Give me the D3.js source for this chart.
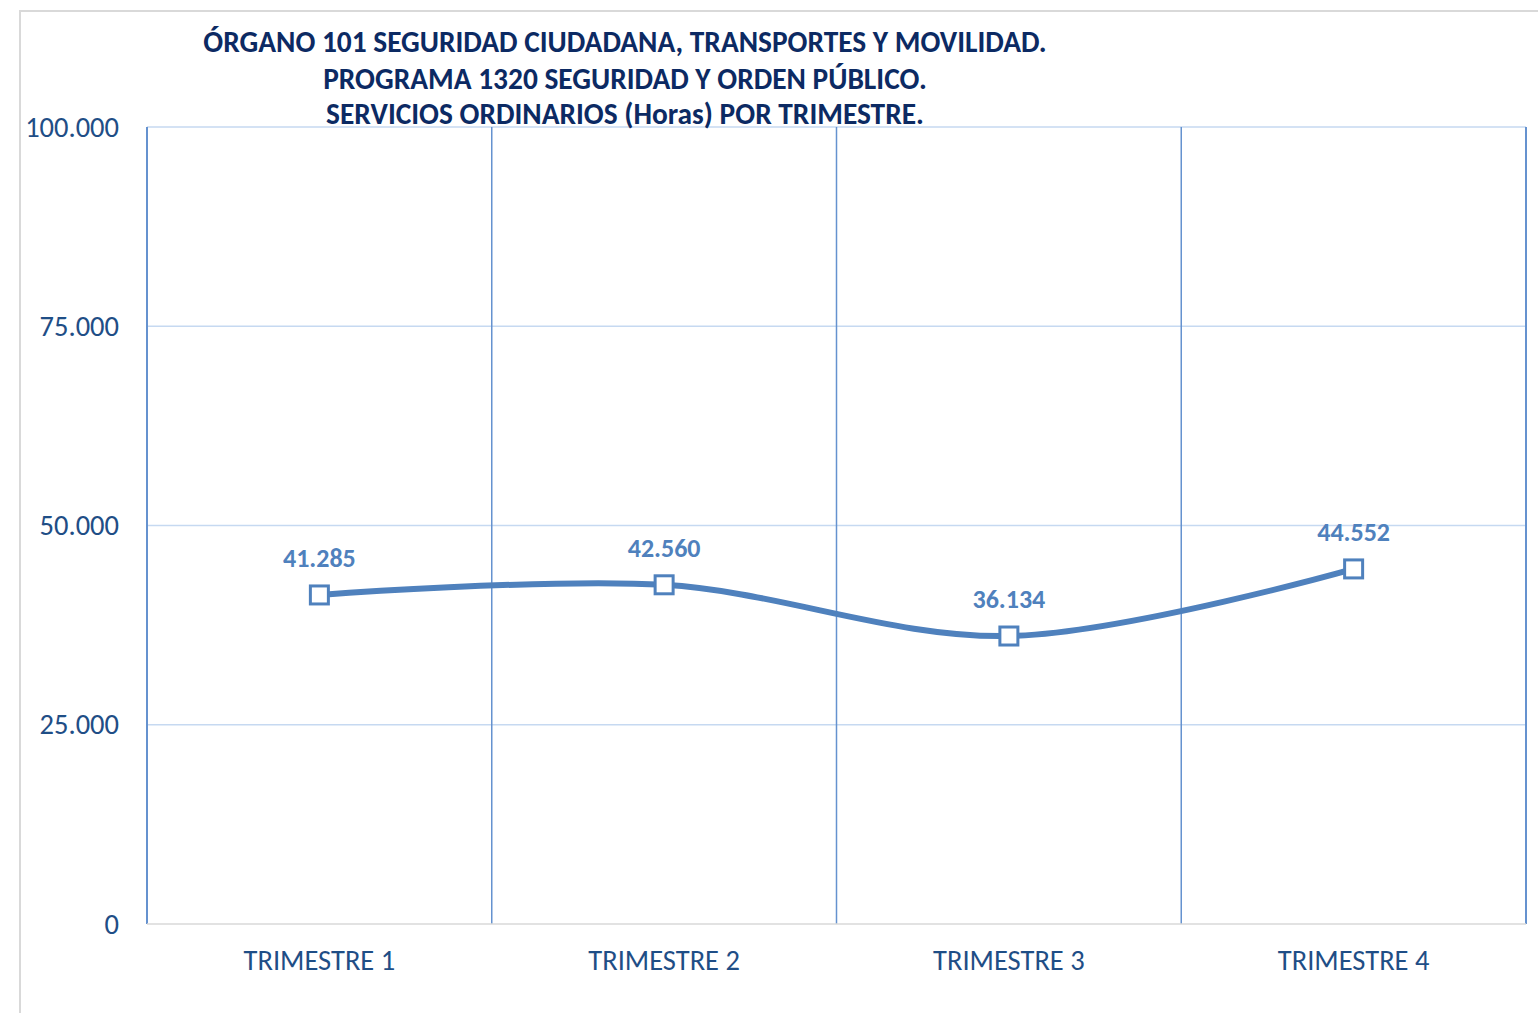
<!DOCTYPE html>
<html>
<head>
<meta charset="utf-8">
<script src="https://cdn.jsdelivr.net/npm/d3@7"></script>
<style>
  body { margin: 0; background: #fff; }
  svg { display: block; font-family: Carlito, Lato, "Open Sans", sans-serif; }
</style>
</head>
<body>
<div id="chart"></div>
<script>
// data
const categories = ['TRIMESTRE 1', 'TRIMESTRE 2', 'TRIMESTRE 3', 'TRIMESTRE 4'];
const horas = [41285, 42560, 36134, 44552];
const yTicks = [0, 25000, 50000, 75000, 100000];
const titleLines = [
    'ÓRGANO 101 SEGURIDAD CIUDADANA, TRANSPORTES Y MOVILIDAD.',
    'PROGRAMA 1320 SEGURIDAD Y ORDEN PÚBLICO.',
    'SERVICIOS ORDINARIOS (Horas) POR TRIMESTRE.'
];

const WIDTH = 1538;
const HEIGHT = 1013;
const MARGIN_TOP = 127;
const MARGIN_BOTTOM = 89;
const MARGIN_LEFT = 147;
const MARGIN_RIGHT = 12;

const BLUE = '#4f81bd';
const NAVY = '#0c2a63';
const AXIS_TEXT = '#1f4e86';
const FONT = 'Carlito, Lato, "Open Sans", sans-serif';

const fmt = d => d3.format(',')(d).replace(/,/g, '.');

const $svg = d3.select('#chart').append('svg')
    .attr('width', WIDTH)
    .attr('height', HEIGHT);

// chart frame
$svg.append('path')
    .attr('d', `M20,${HEIGHT} V11 H${WIDTH}`)
    .attr('fill', 'none')
    .attr('stroke', '#d9d9d9')
    .attr('stroke-width', 2);

const width = WIDTH - MARGIN_LEFT - MARGIN_RIGHT;
const height = HEIGHT - MARGIN_TOP - MARGIN_BOTTOM;

const $g = $svg.append('g')
    .attr('transform', `translate(${MARGIN_LEFT}, ${MARGIN_TOP})`);

// scales
const xScale = d3.scaleBand().domain(categories).range([0, width]);
const yScale = d3.scaleLinear().domain([0, 100000]).range([height, 0]);

// horizontal grid
$g.append('g').attr('class', 'y grid')
    .selectAll('line')
    .data(yTicks.filter(d => d > 0))
    .join('line')
    .attr('x1', 0)
    .attr('x2', width)
    .attr('y1', d => yScale(d))
    .attr('y2', d => yScale(d))
    .attr('stroke', '#c6d9f1')
    .attr('stroke-width', 1.5);

// vertical grid at band edges
const edges = categories.map(c => xScale(c)).concat([width]);
$g.append('g').attr('class', 'x grid')
    .selectAll('line')
    .data(edges)
    .join('line')
    .attr('x1', d => d)
    .attr('x2', d => d)
    .attr('y1', 0)
    .attr('y2', height)
    .attr('stroke', '#6592cf')
    .attr('stroke-width', (d, i) => (i === 0 || i === edges.length - 1) ? 2 : 1.5);

// x baseline
$g.append('line')
    .attr('x1', 0)
    .attr('x2', width)
    .attr('y1', height)
    .attr('y2', height)
    .attr('stroke', '#d9d9d9')
    .attr('stroke-width', 1.5);

// y axis labels
const yAxis = d3.axisLeft(yScale).tickValues(yTicks).tickFormat(fmt).tickSize(0).tickPadding(28);
$g.append('g').attr('class', 'y axis')
    .call(yAxis)
    .call(g => g.select('.domain').remove())
    .selectAll('text')
    .attr('fill', AXIS_TEXT)
    .attr('font-size', 28.5)
    .attr('font-family', FONT);

// x axis labels
const xAxis = d3.axisBottom(xScale).tickSize(0).tickPadding(26);
$g.append('g').attr('class', 'x axis')
    .attr('transform', `translate(0, ${height})`)
    .call(xAxis)
    .call(g => g.select('.domain').remove())
    .selectAll('text')
    .attr('fill', AXIS_TEXT)
    .attr('font-size', 28.5)
    .attr('font-family', FONT);

// line
const cx = (d, i) => xScale(categories[i]) + xScale.bandwidth() / 2;
const line = d3.line()
    .x(cx)
    .y(d => yScale(d))
    .curve(d3.curveCatmullRom.alpha(0.5));

$g.append('path')
    .datum(horas)
    .attr('d', line)
    .attr('fill', 'none')
    .attr('stroke', BLUE)
    .attr('stroke-width', 6)
    .attr('stroke-linecap', 'round');

// markers
$g.append('g').attr('class', 'markers')
    .selectAll('rect')
    .data(horas)
    .join('rect')
    .attr('x', (d, i) => cx(d, i) - 9)
    .attr('y', d => yScale(d) - 9)
    .attr('width', 18)
    .attr('height', 18)
    .attr('fill', '#fff')
    .attr('stroke', BLUE)
    .attr('stroke-width', 3);

// data labels
$g.append('g').attr('class', 'labels')
    .selectAll('text')
    .data(horas)
    .join('text')
    .attr('x', cx)
    .attr('y', d => yScale(d) - 28)
    .attr('text-anchor', 'middle')
    .attr('fill', BLUE)
    .attr('font-size', 26)
    .attr('font-weight', 'bold')
    .text(fmt);

// title
$svg.append('g').attr('class', 'title')
    .selectAll('text')
    .data(titleLines)
    .join('text')
    .attr('x', 625)
    .attr('y', (d, i) => [52, 89, 124][i])
    .attr('text-anchor', 'middle')
    .attr('fill', NAVY)
    .attr('font-size', 29.4)
    .attr('font-weight', 'bold')
    .text(d => d);
</script>
</body>
</html>
